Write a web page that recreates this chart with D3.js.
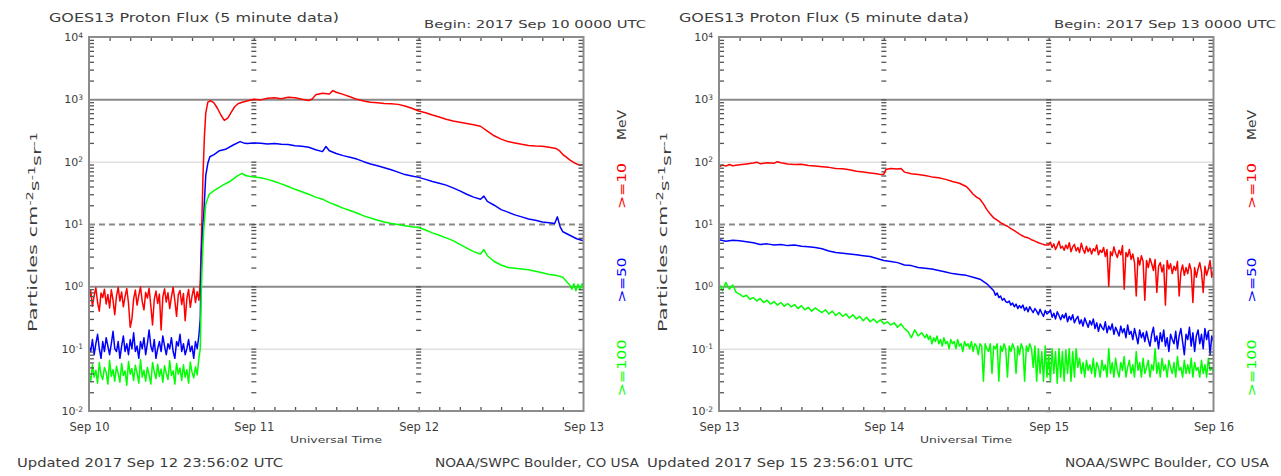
<!DOCTYPE html>
<html><head><meta charset="utf-8">
<script src="https://cdn.jsdelivr.net/npm/d3@7"></script>
<style>
html,body{margin:0;padding:0;background:#fff;}
svg{display:block;}
text{font-family:"DejaVu Sans",sans-serif;fill:#3c3c3c;}
</style></head><body>
<svg id="chart" width="1281" height="476"></svg>
<script>
// ---------------- DATA ----------------
const chartTitle = "GOES13 Proton Flux (5 minute data)";
const leftBegin = "Begin: 2017 Sep 10 0000 UTC";
const rightBegin = "Begin: 2017 Sep 13 0000 UTC";
const leftUpdated = "Updated 2017 Sep 12 23:56:02 UTC";
const rightUpdated = "Updated 2017 Sep 15 23:56:01 UTC";
const creditText = "NOAA/SWPC Boulder, CO USA";
const xTitle = "Universal Time";
const leftDays = ["Sep 10", "Sep 11", "Sep 12", "Sep 13"];
const rightDays = ["Sep 13", "Sep 14", "Sep 15", "Sep 16"];
const dayHours = [0, 24, 48, 72];
const decadeExps = [-2, -1, 0, 1, 2, 3, 4];
const energyLabels = [">=10", ">=50", ">=100"];
const seriesColors = ["#ff0000", "#0000ff", "#00ff00"];

// Left panel (hours since Sep 10 00:00 UTC). Quiet part sampled every 0.25 h from 0 to 16 h.
const leftQuietStep = 0.25;
const leftP10Quiet = [0.62,0.85,0.48,0.71,0.95,0.55,0.40,0.78,0.66,0.90,
0.52,0.74,0.45,0.88,0.60,0.35,0.70,0.96,0.58,0.81,
0.47,0.69,0.92,0.54,0.22,0.30,0.63,0.87,0.50,0.72,
0.98,0.57,0.42,0.80,0.65,0.93,0.49,0.24,0.61,0.84,
0.53,0.75,0.20,0.68,0.91,0.56,0.79,0.44,0.67,0.97,
0.59,0.33,0.73,0.86,0.51,0.77,0.28,0.64,0.89,0.46,
0.70,0.94,0.55,0.82,0.60];
const leftP50Quiet = [0.11,0.09,0.14,0.08,0.12,0.17,0.10,0.07,0.13,0.09,
0.15,0.11,0.08,0.12,0.19,0.10,0.09,0.13,0.07,0.11,
0.16,0.09,0.12,0.08,0.14,0.10,0.18,0.09,0.11,0.07,
0.13,0.10,0.15,0.08,0.12,0.20,0.11,0.09,0.14,0.07,
0.10,0.13,0.09,0.16,0.11,0.08,0.12,0.10,0.15,0.09,
0.07,0.13,0.11,0.17,0.09,0.12,0.08,0.10,0.14,0.09,
0.11,0.07,0.13,0.10,0.16];
const leftP100Quiet = [0.04,0.03,0.055,0.035,0.045,0.028,0.06,0.038,0.032,0.05,
0.042,0.027,0.065,0.036,0.046,0.03,0.052,0.04,0.029,0.058,
0.037,0.044,0.026,0.062,0.039,0.048,0.031,0.054,0.041,0.028,
0.067,0.035,0.045,0.03,0.05,0.038,0.027,0.06,0.043,0.033,
0.056,0.036,0.047,0.029,0.053,0.04,0.032,0.064,0.037,0.044,
0.027,0.058,0.039,0.049,0.031,0.055,0.035,0.046,0.028,0.061,
0.042,0.034,0.051,0.038,0.07];
const leftP10Event = [[16.2,1.2],[16.4,8],[16.6,60],[16.8,250],[17.0,600],[17.3,900],[17.7,950],[18.2,880],[18.7,720],[19.2,560],[19.7,460],[20.2,500],[20.7,620],[21.2,760],[21.7,850],[22.3,900],[23.0,940],[24,1000],[25,980],[26,1040],[27,1060],[28,1020],[29,1080],[30,1060],[31,1000],[32,960],[32.5,1010],[33,1180],[34,1250],[35,1220],[35.5,1380],[36,1300],[37,1200],[38,1100],[39,1000],[40,940],[41,900],[42,880],[43,860],[44,850],[45,830],[46,780],[47,720],[48,650],[49,610],[50,560],[51,520],[52,480],[53,450],[54,430],[55,410],[56,390],[57,370],[58,310],[59,260],[60,230],[61,210],[62,200],[63,190],[64,182],[65,178],[66,176],[67,170],[68,162],[68.5,150],[69,130],[69.5,118],[70,107],[70.5,98],[71,92],[71.5,88],[72,90]];
const leftP50Event = [[16.2,0.3],[16.35,3],[16.5,7],[16.7,14],[17.0,60],[17.3,94],[17.6,120],[18.2,130],[19.0,150],[20.0,160],[21.0,185],[22.0,210],[22.5,200],[23.0,195],[24,200],[25,198],[26,192],[27,195],[28,190],[29,188],[30,180],[31,176],[32,170],[33,155],[34,145],[34.5,175],[35,150],[36,135],[37,125],[38,118],[39,110],[40,100],[41,92],[42,86],[43,80],[44,74],[45,68],[46,62],[47,59],[48,56],[49,52],[50,48],[51,45],[52,42],[53,38],[54,34],[55,30],[56,27],[57,25],[57.5,28],[58,23],[59,20],[60,17],[61,15.5],[62,14],[63,13],[64,12],[65,11.5],[66,10.8],[67,10.5],[67.8,10.2],[68.2,13],[68.6,9],[69,7.5],[70,6.6],[71,5.8],[72,5.4]];
const leftP100Event = [[16.2,0.1],[16.35,0.8],[16.5,2.6],[16.7,8],[17.0,21],[17.5,30],[18.3,35],[19.5,42],[20.5,48],[21.5,58],[22.3,65],[22.8,60],[23.5,58],[24,57],[25,55],[26,52],[27,48],[28,44],[29,40],[30,36],[31,33],[32,30],[33,27],[34,25],[35,22],[36,20],[37,18],[38,16.5],[39,15],[40,13.5],[41,12.5],[42,11.5],[43,10.8],[44,10.2],[45,9.8],[46,9.4],[47,9],[48,8.8],[49,8],[50,7.2],[51,6.6],[52,6],[53,5.4],[54,4.7],[55,4.1],[56,3.6],[57,3.3],[57.5,3.9],[58,3.1],[59,2.5],[60,2.2],[61,2.0],[62,1.95],[63,1.9],[64,1.85],[65,1.75],[66,1.65],[67,1.55],[68,1.5],[69,1.4],[69.5,1.2],[70,1.05],[70.3,0.9],[70.6,1.1],[70.9,0.85],[71.2,1.08],[71.5,0.88],[71.8,1.1],[72,0.9]];

// Right panel (hours since Sep 13 00:00 UTC)
const rightP10Smooth = [[0,83],[0.5,88],[1,85],[1.5,90],[2,86],[3,89],[4,92],[5,95],[5.5,98],[6,93],[7,96],[8,94],[8.5,100],[9,96],[10,92],[11,90],[12,91],[13,87],[14,85],[15,83],[16,81],[17,78],[18,77],[19,74],[20,70],[21,68],[22,66],[23,64],[23.5,62],[24,63],[24.3,75],[25,78],[26,76],[26.5,78],[27,68],[28,64],[29,62],[30,60],[31,57],[32,55],[33,52],[34,48],[35,45],[36,40],[36.5,35],[37,30],[37.5,27],[38,25],[38.5,21],[39,17],[39.5,14.5],[40,12.5],[40.5,11.5],[41,10.5],[41.5,9.8],[42,9.2],[42.5,8.4],[43,7.8],[43.5,7.2],[44,6.6],[44.5,6.2],[45,6.0],[45.5,5.6],[46,5.3],[46.5,5.0],[47,4.8],[47.5,4.6]];
const rightP10NoisyStart = 48, rightP10NoisyStep = 0.25;
const rightP10Noisy = [4.6,5.1,4.2,4.8,3.9,4.5,5.3,4.1,4.4,
3.8,4.6,4.0,5.0,3.6,4.3,4.7,3.7,
4.2,3.5,4.9,3.9,3.4,4.4,3.6,4.1,
3.3,4.0,3.7,4.6,3.2,3.8,3.5,4.2,
3.0,3.9,1.0,3.6,3.1,4.3,3.4,2.9,
3.8,3.2,4.5,0.9,3.5,3.0,3.9,2.7,
3.3,2.4,0.7,2.9,2.2,3.1,2.5,0.6,
2.6,2.0,2.8,2.3,1.8,2.7,0.8,2.1,
2.4,1.7,2.2,0.5,2.6,1.9,2.3,1.6,
2.1,1.8,2.5,0.7,1.7,2.2,1.5,2.0,
1.6,2.3,1.8,0.55,2.0,1.4,1.9,2.4,
1.7,0.8,2.1,1.5,1.9,2.6,1.4,1.8];
const rightP50SmoothStart = 0, rightP50SmoothStep = 1;
const rightP50Smooth = [5.6,5.3,5.5,5.4,5.2,5.0,4.7,4.8,4.6,4.7,
4.5,4.6,4.4,4.3,4.2,4.0,3.7,3.5,3.4,3.3,
3.2,3.1,3.0,2.8,2.6,2.5,2.4,2.2,2.15,2.0,
1.95,1.9,1.8,1.7,1.6,1.55,1.5,1.4,1.3,1.1];
const rightP50NoisyStart = 40, rightP50NoisyStep = 0.25;
const rightP50Noisy = [0.85,0.72,0.78,0.66,0.70,0.60,0.64,0.57,0.55,
0.58,0.50,0.54,0.47,0.52,0.44,0.49,0.45,
0.50,0.41,0.46,0.39,0.47,0.42,0.38,0.44,
0.40,0.35,0.43,0.37,0.33,0.41,0.36,0.38,
0.42,0.32,0.37,0.30,0.39,0.34,0.29,0.35,
0.31,0.37,0.27,0.33,0.29,0.35,0.26,0.30,
0.33,0.25,0.29,0.23,0.31,0.26,0.22,0.28,
0.24,0.30,0.21,0.26,0.19,0.25,0.22,0.20,
0.27,0.18,0.23,0.20,0.25,0.17,0.22,0.19,
0.16,0.23,0.18,0.21,0.15,0.24,0.17,0.19,
0.14,0.21,0.16,0.12,0.20,0.15,0.18,0.13,
0.19,0.14,0.11,0.17,0.22,0.13,0.16,0.10,
0.18,0.13,0.20,0.11,0.15,0.09,0.17,0.14,
0.12,0.19,0.10,0.16,0.21,0.13,0.08,0.17,
0.14,0.22,0.11,0.18,0.09,0.16,0.20,0.12,
0.17,0.10,0.21,0.14,0.19,0.08,0.16,0.13];
const rightP100EarlyStart = 0, rightP100EarlyStep = 0.5;
const rightP100Early = [1.1,0.85,1.15,0.9,1.05,0.8,0.75,0.68,0.72,0.62,0.66,
0.58,0.64,0.55,0.60,0.52,0.57,0.50,0.55,0.48,0.53,
0.47,0.51,0.44,0.49,0.42,0.46,0.40,0.45,0.41,0.38,
0.42,0.36,0.40,0.34,0.38,0.33,0.36,0.31,0.35,0.30,
0.33,0.28,0.32,0.27,0.30,0.26,0.29,0.25,0.27,0.24,
0.26,0.22,0.25,0.21,0.19,0.15,0.20,0.16,0.18,0.15];
const rightP100LateStart = 30.25, rightP100LateStep = 0.25;
const rightP100Late = [0.17,0.14,0.16,0.12,0.15,0.13,0.16,0.12,
0.14,0.11,0.15,0.12,0.13,0.10,0.14,0.12,
0.13,0.10,0.14,0.11,0.12,0.09,0.13,0.11,
0.12,0.10,0.13,0.09,0.12,0.11,0.08,0.12,
0.11,0.03,0.12,0.10,0.09,0.12,0.04,0.11,
0.10,0.12,0.03,0.11,0.09,0.12,0.10,0.035,
0.11,0.09,0.12,0.10,0.04,0.11,0.08,0.12,
0.10,0.03,0.11,0.09,0.12,0.10,0.05,0.11,
0.03,0.10,0.04,0.09,0.03,0.11,0.035,0.08,
0.03,0.10,0.04,0.09,0.028,0.10,0.035,0.09,
0.03,0.095,0.04,0.10,0.03,0.09,0.035,0.10,
0.05,0.07,0.04,0.06,0.035,0.065,0.045,0.055,
0.04,0.07,0.035,0.06,0.05,0.035,0.065,0.045,
0.055,0.035,0.1,0.04,0.06,0.035,0.07,0.045,
0.035,0.06,0.045,0.075,0.035,0.05,0.065,0.04,
0.055,0.035,0.09,0.045,0.06,0.035,0.07,0.04,
0.05,0.065,0.035,0.055,0.045,0.1,0.04,0.06,
0.035,0.07,0.045,0.055,0.035,0.065,0.05,0.04,
0.06,0.035,0.075,0.045,0.05,0.035,0.065,0.04,
0.055,0.04,0.07,0.035,0.06,0.045,0.05,0.035,
0.065,0.04,0.055,0.035,0.07,0.045,0.05,0.04];

// ---------------- BUILD ----------------
const stepped = (vals, start, step) => vals.map((v, i) => [start + i * step, v]);
const panels = [
  { offset: 0, begin: leftBegin, updated: leftUpdated, days: leftDays,
    series: [
      stepped(leftP10Quiet, 0, leftQuietStep).concat(leftP10Event),
      stepped(leftP50Quiet, 0, leftQuietStep).concat(leftP50Event),
      stepped(leftP100Quiet, 0, leftQuietStep).concat(leftP100Event)
    ] },
  { offset: 630, begin: rightBegin, updated: rightUpdated, days: rightDays,
    series: [
      rightP10Smooth.concat(stepped(rightP10Noisy, rightP10NoisyStart, rightP10NoisyStep)),
      stepped(rightP50Smooth, rightP50SmoothStart, rightP50SmoothStep).concat(stepped(rightP50Noisy, rightP50NoisyStart, rightP50NoisyStep)),
      stepped(rightP100Early, rightP100EarlyStart, rightP100EarlyStep).concat(stepped(rightP100Late, rightP100LateStart, rightP100LateStep))
    ] }
];

const svg = d3.select("#chart");
const L = 89, R = 583.5, T = 37, B = 411;
const frameColor = "#8c8c8c";
const tickColor = "#555";

const minorVals = [];
decadeExps.slice(0, -1).forEach(e => { for (let m = 2; m <= 9; m++) minorVals.push(m * Math.pow(10, e)); });
const decadeVals = decadeExps.map(e => Math.pow(10, e));
const hours3 = d3.range(3, 72, 3);

panels.forEach(p => {
  const g = svg.append("g").attr("transform", `translate(${p.offset},0)`);
  const x = d3.scaleLinear().domain([0, 72]).range([L, R]);
  const y = d3.scaleLog().domain([1e-2, 1e4]).range([B, T]);

  // decade grid lines
  const grid = g.append("g").attr("transform", `translate(${L},0)`)
    .call(d3.axisLeft(y).tickValues(decadeVals.slice(1, -1)).tickSize(-(R - L)).tickFormat(""));
  grid.select(".domain").remove();
  grid.selectAll(".tick line").each(function (d) {
    const e = Math.round(Math.log10(d));
    const s = d3.select(this);
    if (e === 3 || e === 0) s.attr("stroke", "#8a8a8a").attr("stroke-width", 2);
    else if (e === 1) s.attr("stroke", "#8a8a8a").attr("stroke-width", 2).attr("stroke-dasharray", "6,4");
    else s.attr("stroke", "#d0d0d0").attr("stroke-width", 1);
  });

  // day-boundary dotted markers
  [24, 48].forEach(h => {
    const dg = g.append("g").attr("transform", `translate(${x(h) + 2.5},0)`)
      .call(d3.axisLeft(y).tickValues(minorVals.concat(decadeVals)).tickSize(5).tickFormat(""));
    dg.select(".domain").remove();
    dg.selectAll(".tick line").attr("stroke", tickColor).attr("stroke-width", 1.3);
  });

  // data lines
  const line = d3.line().x(d => x(d[0])).y(d => y(d[1]));
  p.series.forEach((s, i) => {
    g.append("path").datum(s).attr("d", line).attr("fill", "none")
      .attr("stroke", seriesColors[i]).attr("stroke-width", 1.5).attr("stroke-linejoin", "round");
  });

  // minor ticks left/right
  const ml = g.append("g").attr("transform", `translate(${L},0)`)
    .call(d3.axisLeft(y).tickValues(minorVals).tickSize(-5).tickFormat(""));
  const mr = g.append("g").attr("transform", `translate(${R},0)`)
    .call(d3.axisRight(y).tickValues(minorVals).tickSize(-5).tickFormat(""));
  [ml, mr].forEach(a => { a.select(".domain").remove(); a.selectAll(".tick line").attr("stroke", tickColor).attr("stroke-width", 1.3); });

  // top/bottom hour ticks
  const tt = g.append("g").attr("transform", `translate(0,${T})`)
    .call(d3.axisTop(x).tickValues(hours3).tickSize(-4).tickFormat(""));
  const bt = g.append("g").attr("transform", `translate(0,${B})`)
    .call(d3.axisBottom(x).tickValues(hours3).tickSize(-4).tickFormat(""));
  [tt, bt].forEach(a => { a.select(".domain").remove(); a.selectAll(".tick line").attr("stroke", tickColor).attr("stroke-width", 1.3); });

  // frame
  g.append("rect").attr("x", L).attr("y", T).attr("width", R - L).attr("height", B - T)
    .attr("fill", "none").attr("stroke", frameColor).attr("stroke-width", 2);

  // y tick labels
  const yl = g.append("g").attr("transform", `translate(${L},0)`)
    .call(d3.axisLeft(y).tickValues(decadeVals).tickSize(0).tickPadding(6).tickFormat(() => "10"));
  yl.select(".domain").remove();
  yl.selectAll(".tick text").attr("font-size", 11).attr("fill", "#3c3c3c")
    .style("font-family", "'DejaVu Sans',sans-serif")
    .each(function (d) {
      const e = Math.round(Math.log10(d));
      d3.select(this).append("tspan").attr("dy", "-0.45em").attr("font-size", 7.5).text(e);
    });

  // x day labels
  const xl = g.append("g").attr("transform", `translate(0,${B})`)
    .call(d3.axisBottom(x).tickValues(dayHours).tickSize(0).tickPadding(12).tickFormat((d, i) => p.days[i]));
  xl.select(".domain").remove();
  xl.selectAll(".tick text").attr("font-size", 11.5).attr("fill", "#3c3c3c")
    .style("font-family", "'DejaVu Sans',sans-serif");

  // texts
  g.append("text").attr("x", 49).attr("y", 22).attr("font-size", 13)
    .attr("textLength", 290).attr("lengthAdjust", "spacingAndGlyphs").text(chartTitle);
  g.append("text").attr("x", 424).attr("y", 28).attr("font-size", 11)
    .attr("textLength", 222).attr("lengthAdjust", "spacingAndGlyphs").text(p.begin);
  g.append("text").attr("x", 336).attr("y", 443).attr("font-size", 9.5).attr("text-anchor", "middle")
    .attr("textLength", 92).attr("lengthAdjust", "spacingAndGlyphs").text(xTitle);
  g.append("text").attr("x", 17).attr("y", 467).attr("font-size", 12)
    .attr("textLength", 266).attr("lengthAdjust", "spacingAndGlyphs").text(p.updated);
  g.append("text").attr("x", 435).attr("y", 467).attr("font-size", 12)
    .attr("textLength", 204).attr("lengthAdjust", "spacingAndGlyphs").text(creditText);

  // y title
  const yt = g.append("text").attr("transform", "translate(37,232) rotate(-90)")
    .attr("text-anchor", "middle").attr("font-size", 13)
    .attr("textLength", 200).attr("lengthAdjust", "spacingAndGlyphs");
  yt.append("tspan").text("Particles  cm");
  yt.append("tspan").attr("dy", "-0.45em").attr("font-size", 9).text("-2");
  yt.append("tspan").attr("dy", "0.45em").text("s");
  yt.append("tspan").attr("dy", "-0.45em").attr("font-size", 9).text("-1");
  yt.append("tspan").attr("dy", "0.45em").text("sr");
  yt.append("tspan").attr("dy", "-0.45em").attr("font-size", 9).text("-1");

  // right-side energy labels
  const rl = [
    { t: "MeV", c: "#3c3c3c", cy: 125, len: 30 },
    { t: energyLabels[0], c: seriesColors[0], cy: 186, len: 46 },
    { t: energyLabels[1], c: seriesColors[1], cy: 280, len: 45 },
    { t: energyLabels[2], c: seriesColors[2], cy: 368, len: 57 }
  ];
  rl.forEach(d => {
    g.append("text").attr("transform", `translate(626,${d.cy}) rotate(-90)`)
      .attr("text-anchor", "middle").attr("font-size", 12).style("fill", d.c)
      .attr("textLength", d.len).attr("lengthAdjust", "spacingAndGlyphs").text(d.t);
  });
});
</script>
</body></html>
